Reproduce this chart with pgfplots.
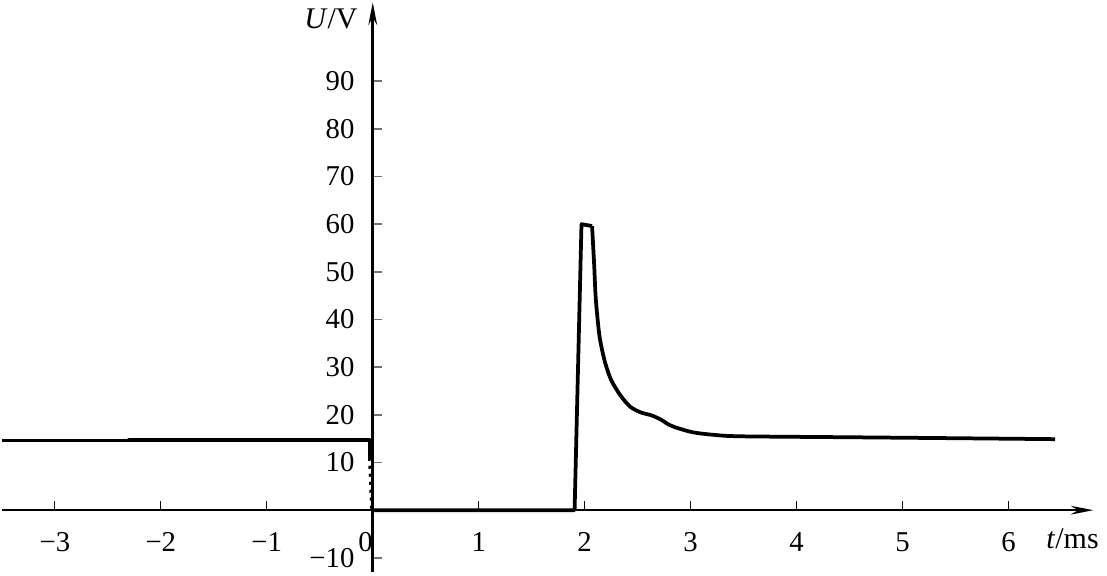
\documentclass[border=0pt]{standalone}
\usepackage{fontspec}
\setmainfont{Liberation Serif}
\usepackage{pgfplots}
\pgfplotsset{compat=1.18}
\usetikzlibrary{arrows.meta}

\begin{document}
\begin{tikzpicture}
\begin{axis}[
  scale only axis, width=436.8pt, height=228pt,
  axis lines=middle,
  xmin=-3.5, xmax=6.8, ymin=-13, ymax=106.5,
  x axis line style={line width=0.6pt, -{Stealth[length=9pt,width=3.5pt]}},
  y axis line style={line width=1.1pt, -{Stealth[length=9pt,width=3.5pt]}},
  xtick={-3,...,6}, xticklabels={−3,−2,−1,\makebox[0pt][r]{0},1,2,3,4,5,6},
  ytick={-10,10,20,30,40,50,60,70,80,90},
  yticklabels={−10,10,20,30,40,50,60,70,80,90},
  hide obscured x ticks=false, hide obscured y ticks=false,
  tick align=center, major tick length=3.6pt,
  x tick style={black, line width=0.5pt, yshift=1.8pt},
  y tick style={black!55, line width=0.6pt, xshift=1.8pt},
  tick label style={font=\fontsize{11.5}{13}\selectfont},
  x tick label style={yshift=-3.5pt},
  y tick label style={xshift=-2pt},
  xlabel={\textit{t}/ms}, ylabel={\textit{U}/V},
  label style={font=\fontsize{12}{14}\selectfont},
  xlabel style={at={(axis description cs:0.981,0.058)}, anchor=center},
  ylabel style={at={(axis description cs:0.334,0.972)}, anchor=east, rotate=0},
  clip=false,
]
\addplot[line width=1.5pt, line join=round] coordinates {
  (-3.5,14.6) (-2.3,14.6) (-2.3,14.8) (-0.03,14.8) (-0.03,11)};
\addplot[line width=1.2pt, dotted] coordinates {(-0.03,11) (-0.01,0)};
\addplot[line width=1.5pt, line join=round] coordinates {
  (0,0) (1.905,0) (1.97,60) (2.07,59.6)};
\addplot[line width=1.5pt, smooth, tension=0.45] coordinates {
  (2.07,59.6) (2.09,51.3) (2.105,44.3) (2.14,36.5)
  (2.19,31.2) (2.25,27.3) (2.34,24.0) (2.43,21.7) (2.53,20.5) (2.63,19.9)
  (2.72,19.0) (2.79,18.0) (2.88,17.2) (3.03,16.3) (3.22,15.8) (3.47,15.5)
  (4.5,15.3) (5.5,15.1) (6.44,14.9)};
\end{axis}
\end{tikzpicture}
\end{document}
